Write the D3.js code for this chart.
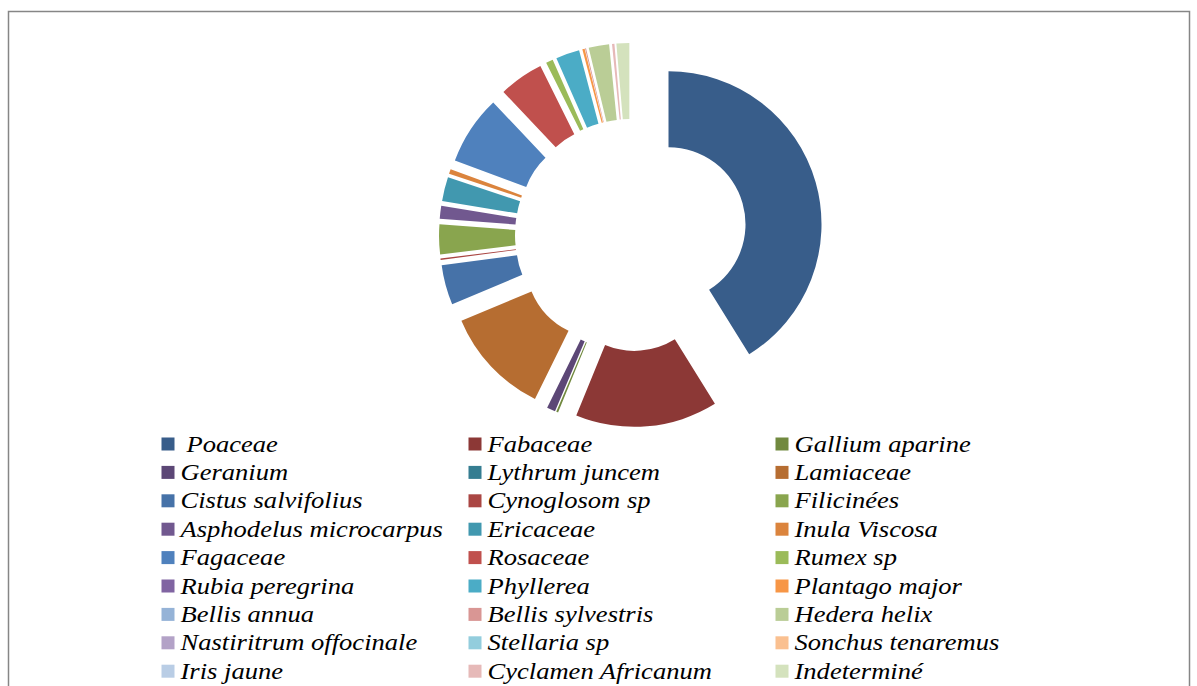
<!DOCTYPE html>
<html>
<head>
<meta charset="utf-8">
<script src="https://cdn.jsdelivr.net/npm/d3@7"></script>
<style>
  html, body { margin: 0; padding: 0; background: #ffffff; }
  svg { display: block; }
</style>
</head>
<body>
<svg id="chart" width="1197" height="686"></svg>
<script>
// Pollen / plant family shares (%), clockwise from the top
const categories = [
  " Poaceae", "Fabaceae", "Gallium aparine",
  "Geranium", "Lythrum juncem", "Lamiaceae",
  "Cistus salvifolius", "Cynoglosom sp", "Filicinées",
  "Asphodelus microcarpus", "Ericaceae", "Inula Viscosa",
  "Fagaceae", "Rosaceae", "Rumex sp",
  "Rubia peregrina", "Phyllerea", "Plantago major",
  "Bellis annua", "Bellis sylvestris", "Hedera helix",
  "Nastiritrum offocinale", "Stellaria sp", "Sonchus tenaremus",
  "Iris jaune", "Cyclamen Africanum", "Indeterminé"
];
const values = [
  41.1, 15.0, 0.2,
  0.9, 0, 11.4,
  4.2, 0.15, 3.15,
  1.35, 2.55, 0.5,
  7.3, 4.7, 0.75,
  0, 2.5, 0.25,
  0, 0.1, 2.15,
  0, 0, 0,
  0, 0.25, 1.35
];
const colors = [
  "#385d8a", "#8c3836", "#71893f",
  "#5c4776", "#357d91", "#b66d31",
  "#4672a8", "#aa4643", "#89a54e",
  "#71588f", "#4198af", "#db843d",
  "#4f81bd", "#c0504d", "#9bbb59",
  "#8064a2", "#4bacc6", "#f79646",
  "#95b3d7", "#d99694", "#bacd96",
  "#b3a2c7", "#93cddd", "#fac090",
  "#b9cde5", "#e6b9b8", "#d4e2bd"
];

const svg = d3.select("#chart");

// outer frame
svg.append("rect")
  .attr("x", 8.5).attr("y", 11.5)
  .attr("width", 1181).attr("height", 700)
  .attr("fill", "none")
  .attr("stroke", "#868686")
  .attr("stroke-width", 1.5);

// exploded doughnut
const cx = 631, cy = 235, outerR = 153, innerR = 77, explode = 39;

const pie = d3.pie().sort(null).value(d => d)(values);
const arc = d3.arc().innerRadius(innerR).outerRadius(outerR);

const g = svg.append("g").attr("transform", `translate(${cx},${cy})`);
g.selectAll("path.slice")
  .data(pie)
  .join("path")
  .attr("class", "slice")
  .attr("d", arc)
  .attr("fill", (d, i) => colors[i])
  .attr("transform", d => {
    const mid = (d.startAngle + d.endAngle) / 2;
    return `translate(${explode * Math.sin(mid)},${-explode * Math.cos(mid)})`;
  });

// legend: three columns of italic serif labels
const colX = [161.5, 468.5, 775.5];
const rowY0 = 437.5, rowStep = 28.4, box = 13;
const fontFamily = '"Liberation Serif"';
const fontSize = 23;

// labels are set slightly wide; derive the horizontal stretch from one label
const probe = svg.append("text")
  .style("font-family", fontFamily).style("font-style", "italic")
  .style("font-size", fontSize + "px")
  .text("Asphodelus microcarpus");
const stretch = Math.min(1.3, Math.max(0.8, 262.5 / probe.node().getComputedTextLength()));
probe.remove();

const legend = svg.append("g").attr("class", "legend");
const item = legend.selectAll("g.item")
  .data(categories)
  .join("g")
  .attr("class", "item")
  .attr("transform", (d, i) => `translate(${colX[i % 3]},${rowY0 + Math.floor(i / 3) * rowStep})`);

item.append("rect")
  .attr("width", box).attr("height", box)
  .attr("fill", (d, i) => colors[i]);

// leading blank on the first label is kept by offsetting it rather than by whitespace
item.append("text")
  .attr("transform", d => `translate(${d.startsWith(" ") ? 25 : 19},14) scale(${stretch},1)`)
  .style("font-family", fontFamily)
  .style("font-style", "italic")
  .style("font-size", fontSize + "px")
  .attr("fill", "#000")
  .text(d => d.trim());
</script>
</body>
</html>
